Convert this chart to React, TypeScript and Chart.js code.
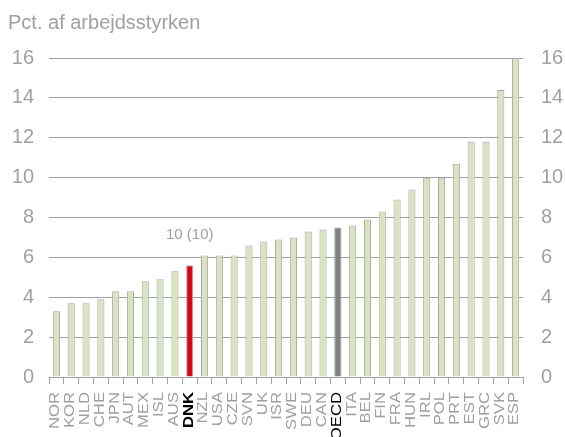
import React, { useEffect, useRef } from "react";
import { Chart, registerables } from "chart.js";

Chart.register(...registerables);

const categories = ["NOR","KOR","NLD","CHE","JPN","AUT","MEX","ISL","AUS","DNK","NZL","USA","CZE","SVN","UK","ISR","SWE","DEU","CAN","OECD","ITA","BEL","FIN","FRA","HUN","IRL","POL","PRT","EST","GRC","SVK","ESP"];
const values = [3.3,3.7,3.7,3.9,4.3,4.3,4.8,4.9,5.3,5.6,6.1,6.1,6.1,6.6,6.8,6.9,7.0,7.3,7.4,7.5,7.6,7.9,8.3,8.9,9.4,10.0,10.0,10.7,11.8,11.8,14.4,16.0];
const highlightRed = ["DNK"];
const highlightGrey = ["OECD"];
const annotationLabels = [{ category: "DNK", text: "10 (10)" }];
const yTicks = [0, 2, 4, 6, 8, 10, 12, 14, 16];
const titleText = "Pct. af arbejdsstyrken";

const GREEN = "#d7e4bd";
const RED = "#e3000f";
const DARK = "#808080";
const TEXT = "#a0a0a0";
const LINE = "#a0a0a0";
const FONT = "'Liberation Sans', Arial, sans-serif";

const annotationPlugin = {
  id: "annot",
  afterDatasetsDraw(chart: any) {
    const ctx = chart.ctx;
    const xs = chart.scales.x;
    const ys = chart.scales.y;
    ctx.save();
    ctx.fillStyle = TEXT;
    ctx.font = `15px ${FONT}`;
    ctx.textAlign = "center";
    ctx.textBaseline = "bottom";
    for (const a of annotationLabels) {
      const i = categories.indexOf(a.category);
      const x = xs.getPixelForValue(i);
      const y = ys.getPixelForValue(values[i]);
      ctx.fillText(a.text, x, y - 23);
    }
    ctx.restore();
  },
};

// stretched, rotated category labels
const xLabelPlugin = {
  id: "xlabels",
  afterDraw(chart: any) {
    const ctx = chart.ctx;
    const xs = chart.scales.x;
    ctx.save();
    categories.forEach((c, i) => {
      const special = highlightRed.includes(c) || highlightGrey.includes(c);
      const bold = highlightRed.includes(c);
      ctx.save();
      ctx.translate(xs.getPixelForValue(i) - 1, xs.top + 15);
      ctx.rotate(-Math.PI / 2);
      ctx.scale(1.19, 1);
      ctx.font = `${bold ? "bold " : ""}14px ${FONT}`;
      ctx.fillStyle = special ? "#000000" : TEXT;
      ctx.textAlign = "right";
      ctx.textBaseline = "middle";
      ctx.fillText(c, 0, 0);
      ctx.restore();
    });
    ctx.restore();
  },
};

export default function App() {
  const ref = useRef<HTMLCanvasElement>(null);
  useEffect(() => {
    document.body.style.margin = "0";
    const bg = categories.map((c) =>
      highlightRed.includes(c) ? RED : highlightGrey.includes(c) ? DARK : GREEN
    );
    const bc = categories.map((c) => (highlightRed.includes(c) ? "#b0b0b0" : highlightGrey.includes(c) ? "#909090" : "#a8a8a8"));
    const chart = new Chart(ref.current!, {
      type: "bar",
      data: {
        labels: categories,
        datasets: [
          {
            data: values,
            backgroundColor: bg,
            borderColor: bc,
            borderWidth: 1,
            barPercentage: 0.48,
            categoryPercentage: 1,
          },
        ],
      },
      plugins: [annotationPlugin, xLabelPlugin],
      options: {
        animation: false,
        responsive: false,
        maintainAspectRatio: false,
        layout: { padding: { left: 8, right: 0, top: 0, bottom: 0 } },
        plugins: {
          legend: { display: false },
          tooltip: { enabled: false },
          title: {
            display: true,
            text: titleText,
            align: "start",
            color: TEXT,
            font: { family: FONT, size: 20, weight: "normal" },
            padding: { top: 11, bottom: 23 },
          },
        },
        scales: {
          x: {
            offset: true,
            grid: { display: true, drawOnChartArea: false, color: LINE, tickLength: 7, offset: true },
            border: { display: true, color: LINE },
            ticks: {
              autoSkip: false,
              maxRotation: 90,
              minRotation: 90,
              padding: 1,
              font: { family: FONT, size: 14 },
              color: "rgba(0,0,0,0)",
            },
            afterFit: (s: any) => { s.height = 60; },
          },
          y: {
            position: "left",
            min: 0,
            max: 16,
            afterBuildTicks: (s: any) => { s.ticks = yTicks.map((v) => ({ value: v })); },
            grid: { color: LINE, drawTicks: false, tickLength: 0 },
            border: { display: false },
            ticks: {
              padding: 15,
              color: TEXT,
              font: { family: FONT, size: 20 },
            },
            afterFit: (s: any) => { s.width = 41; },
          },
          y2: {
            position: "right",
            min: 0,
            max: 16,
            afterBuildTicks: (s: any) => { s.ticks = yTicks.map((v) => ({ value: v })); },
            grid: { display: false, drawTicks: false, tickLength: 0 },
            border: { display: false },
            ticks: {
              padding: 18,
              color: TEXT,
              font: { family: FONT, size: 20 },
            },
            afterFit: (s: any) => { s.width = 42; },
          },
        },
      },
    } as any);
    return () => chart.destroy();
  }, []);
  return <canvas ref={ref} width={565} height={437} style={{ display: "block" }} />;
}
